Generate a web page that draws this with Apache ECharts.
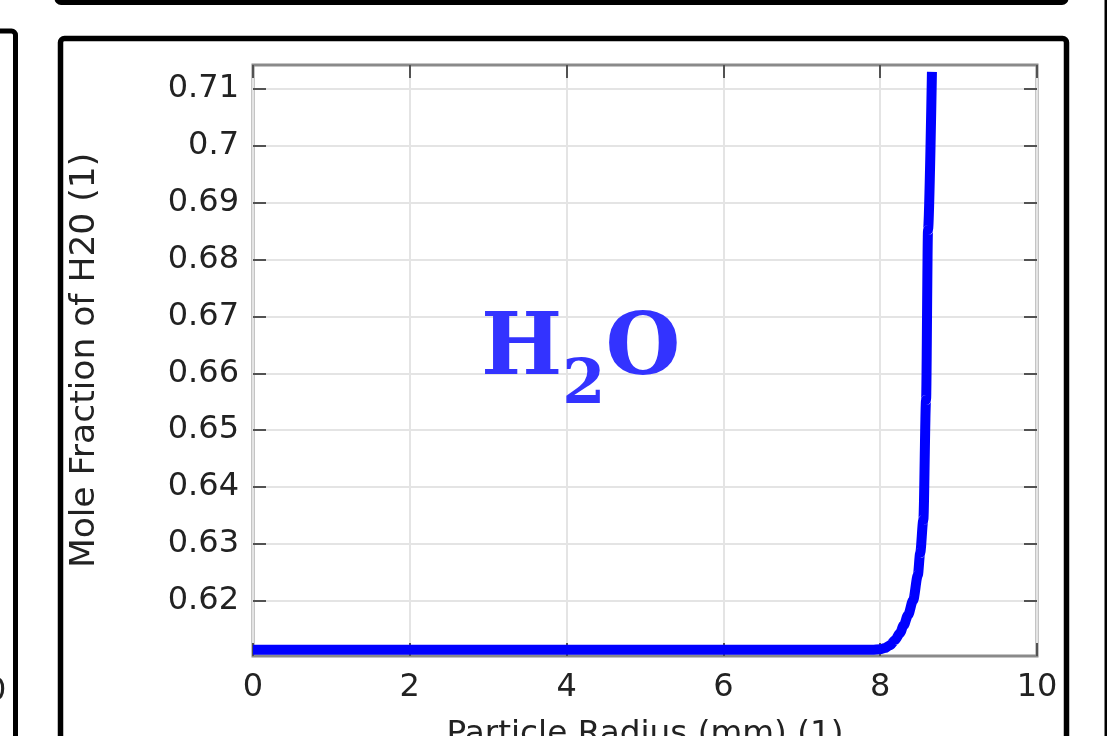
<!DOCTYPE html>
<html>
<head>
<meta charset="utf-8">
<script src="https://cdn.jsdelivr.net/npm/echarts@6/dist/echarts.min.js"></script>
<style>
html,body{margin:0;padding:0;background:#fff;}
#c{width:1107px;height:736px;}
</style>
</head>
<body>
<div id="c"></div>
<script>
// ---- data ----
const radius = [0, 1, 2, 3, 4, 5, 6, 7, 7.5, 7.9, 8.0, 8.06, 8.125, 8.19, 8.25, 8.3, 8.355, 8.42, 8.48, 8.51, 8.55, 8.585, 8.61, 8.66];
const moleH2O = [0.6114, 0.6114, 0.6114, 0.6114, 0.6114, 0.6114, 0.6114, 0.6114, 0.6114, 0.6114, 0.6115, 0.6117, 0.6122, 0.6131, 0.6143, 0.6157, 0.6175, 0.6201, 0.6245, 0.6284, 0.6342, 0.6553, 0.6852, 0.7130];
const xTicks = [0, 2, 4, 6, 8, 10];
const yTicks = [0.62, 0.63, 0.64, 0.65, 0.66, 0.67, 0.68, 0.69, 0.70, 0.71];
const yMin = 0.6103, yMax = 0.7142;
const xName = 'Particle Radius (mm) (1)';
const yName = 'Mole Fraction of H20 (1)';

const chart = echarts.init(document.getElementById('c'), null, {renderer: 'canvas'});
const FONT = 'DejaVu Sans';
const labelStyle = {fontFamily: FONT, fontSize: 32, color: '#222'};
const tickStyle = {show: true, inside: true, length: 13, lineStyle: {color: '#222', width: 1.5}};

const option = {
  backgroundColor: '#fff',
  animation: false,
  grid: {left: 253, top: 65, right: 1107 - 1037, bottom: 736 - 656, containLabel: false, outerBoundsMode: 'none',
    show: true, borderColor: '#8a8a8a', borderWidth: 3, backgroundColor: '#fff', z: 0},
  xAxis: [{
    type: 'value', min: 0, max: 10, interval: 2, position: 'bottom',
    axisLine: {show: false, onZero: false},
    axisTick: tickStyle,
    axisLabel: Object.assign({margin: 16}, labelStyle),
    splitLine: {show: true, lineStyle: {color: '#e4e4e4', width: 2}},
    name: xName, nameLocation: 'middle', nameGap: 62,
    nameTextStyle: {fontFamily: FONT, fontSize: 32.7, color: '#222'}
  }, {
    type: 'value', min: 0, max: 10, interval: 2, position: 'top',
    axisLine: {show: false, onZero: false},
    axisTick: tickStyle,
    axisLabel: {show: false}, splitLine: {show: false}
  }],
  yAxis: [{
    type: 'value', min: yMin, max: yMax, position: 'left',
    axisLine: {show: false, onZero: false},
    axisTick: Object.assign({customValues: yTicks}, tickStyle),
    axisLabel: Object.assign({margin: 14, customValues: yTicks}, labelStyle),
    splitLine: {show: true, lineStyle: {color: '#e4e4e4', width: 2}},
    name: yName, nameLocation: 'middle', nameGap: 150, nameRotate: 90,
    nameTextStyle: {fontFamily: FONT, fontSize: 34.5, color: '#222'}
  }, {
    type: 'value', min: yMin, max: yMax, position: 'right',
    axisLine: {show: false, onZero: false},
    axisTick: Object.assign({customValues: yTicks}, tickStyle),
    axisLabel: {show: false}, splitLine: {show: false}
  }],
  series: [{
    type: 'line', xAxisIndex: 0, yAxisIndex: 0,
    data: radius.map((r, i) => [r, moleH2O[i]]),
    showSymbol: false, smooth: 0.3, smoothMonotone: 'x',
    lineStyle: {color: '#0000ff', width: 10, cap: 'butt'},
    clip: true, z: 3
  }],
  graphic: [
    // top frame (partially visible)
    {type: 'rect', shape: {x: 57, y: -40, width: 1009, height: 42.5, r: 4}, style: {fill: null, stroke: '#000', lineWidth: 5}, z: 10},
    // left partial frame
    {type: 'rect', shape: {x: -40, y: 31, width: 55.5, height: 800, r: 4}, style: {fill: null, stroke: '#000', lineWidth: 5}, z: 10},
    {type: 'text', left: -14, top: 676, style: {text: '0', font: '32px "DejaVu Sans"', fill: '#222'}, z: 10},
    // main frame
    {type: 'rect', shape: {x: 60.5, y: 38.5, width: 1006, height: 800, r: 4}, style: {fill: null, stroke: '#000', lineWidth: 5.5}, z: 10},
    // right partial frame
    {type: 'rect', shape: {x: 1106, y: -40, width: 200, height: 900}, style: {fill: null, stroke: '#000', lineWidth: 3}, z: 10},
    // H2O annotation
    {type: 'text', left: 481, top: 286, z: 10,
      style: {
        text: '{a|H}{b|2}{a|O}',
        rich: {
          a: {fontFamily: 'DejaVu Serif', fontWeight: 'bold', fontSize: 86, fill: '#3333ff', lineHeight: 100},
          b: {fontFamily: 'DejaVu Serif', fontWeight: 'bold', fontSize: 62, fill: '#3333ff', padding: [70, 0, 0, 0], lineHeight: 100}
        }
      }
    }
  ]
};
chart.setOption(option);
</script>
</body>
</html>
